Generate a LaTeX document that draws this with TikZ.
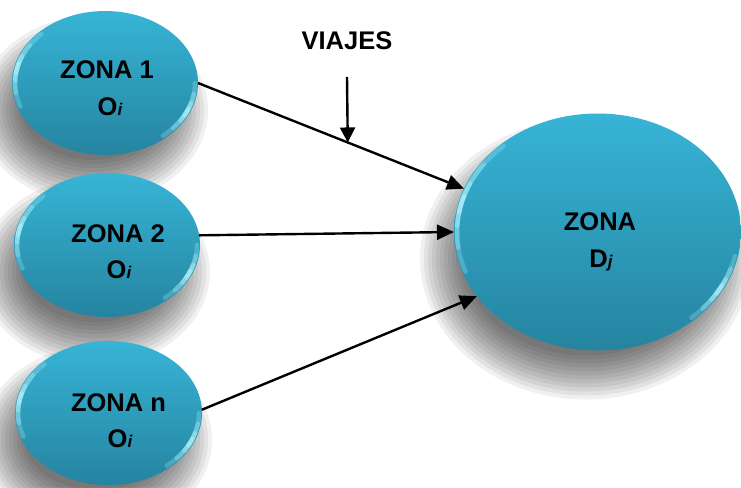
\documentclass[tikz,border=0pt]{standalone}
\usepackage{fontspec}
\setmainfont{Liberation Sans}
\usetikzlibrary{shapes.geometric,arrows.meta,calc}

\definecolor{zonetop}{RGB}{55,180,214}
\definecolor{zonebot}{RGB}{37,132,160}
\definecolor{zoneglow}{RGB}{185,248,255}

% small italic index letter (O_i, D_j)
\newcommand\idx[1]{{\fontsize{17}{20}\selectfont\itshape #1}}

% soft drop shadow: stacked translucent ellipses (cx, cy, rx, ry)
\newcommand\zoneshadow[4]{%
  \foreach \k in {0,...,11}{%
    \pgfmathsetmacro\grow{22-4*\k}%
    \fill[black, opacity=0.06] (#1-12,#2+27)
      ellipse [x radius={#3+\grow}, y radius={#4+\grow}];
  }}

% bright bevel along part of the rim (cx, cy, rx, ry, start, end)
\newcommand\zonerim[6]{%
  \begin{scope}[shift={(#1,#2)}]
    \pgfmathsetmacro\rxr{#3-3}%
    \pgfmathsetmacro\ryr{#4-3}%
    \foreach \f/\o in {0/0.25,0.18/0.3,0.34/0.38,0.44/0.45}{%
      \pgfmathsetmacro\sa{#5+\f*(#6-#5)}%
      \pgfmathsetmacro\ea{#6-\f*(#6-#5)}%
      \draw[rimline, opacity=\o] ({\rxr*cos(\sa)},{\ryr*sin(\sa)})
        arc[start angle=\sa, end angle=\ea, x radius=\rxr, y radius=\ryr];
    }
  \end{scope}}

\begin{document}
\begin{tikzpicture}[x=1pt,y=-1pt,
  zone/.style={ellipse, inner sep=0pt, outer sep=0pt, draw=none,
    top color=zonetop, bottom color=zonebot},
  rimline/.style={draw=zoneglow, line width=4.5pt, line cap=round},
  lbl/.style={anchor=base, inner sep=0pt,
    font=\fontsize{25.5}{30}\selectfont\bfseries},
  conn/.style={line width=2.4pt, -{Triangle[length=17pt,width=15pt]}},
]
\fill[white] (0,0) rectangle (741,487);
\useasboundingbox (0,0) rectangle (741,487);

% shadows
\zoneshadow{105}{83}{93}{72}
\zoneshadow{107}{245}{93}{72}
\zoneshadow{108.5}{413}{93.5}{72}
\zoneshadow{597.5}{232}{143.5}{118.5}

% zones
\node[zone, minimum width=186pt, minimum height=144pt] (z1) at (105,83) {};
\node[zone, minimum width=186pt, minimum height=144pt] (z2) at (107,245) {};
\node[zone, minimum width=187pt, minimum height=144pt] (zn) at (108.5,413) {};
\node[zone, minimum width=287pt, minimum height=237pt] (zd) at (597.5,232) {};

% bevel highlights
\zonerim{105}{83}{93}{72}{225}{160}
\zonerim{105}{83}{93}{72}{0}{50}
\zonerim{107}{245}{93}{72}{225}{160}
\zonerim{107}{245}{93}{72}{0}{50}
\zonerim{108.5}{413}{93.5}{72}{225}{160}
\zonerim{108.5}{413}{93.5}{72}{0}{50}
\zonerim{597.5}{232}{143.5}{118.5}{228}{160}
\zonerim{597.5}{232}{143.5}{118.5}{12}{48}

% labels
\node[lbl] (t1a) at (107,78)  {ZONA 1};
\node[lbl] (t1b) at (110,115) {O\idx{i}};
\node[lbl] (t2a) at (118,242) {ZONA 2};
\node[lbl] (t2b) at (119,278) {O\idx{i}};
\node[lbl] (tna) at (118.5,411) {ZONA n};
\node[lbl] (tnb) at (120,447) {O\idx{i}};
\node[lbl] (tda) at (600,230) {ZONA};
\node[lbl] (tdb) at (601,267) {D\idx{j}};
\node[lbl] (viajes) at (347,49) {VIAJES};

% trips from the origin zones to the destination zone
\draw[conn] (z1.east) -- (zd.162);
\draw[conn] (z2.6) -- (zd.180);
\draw[conn] (zn.2) -- (zd.208);

% pointer to the trip flow
\coordinate (vtop) at (347,77);
\coordinate (vhit) at ($(z1.east)!0.563!(zd.162)$);
\draw[conn, -{Triangle[length=15pt,width=15pt]}] (vtop) -- (vhit);
\end{tikzpicture}
\end{document}
